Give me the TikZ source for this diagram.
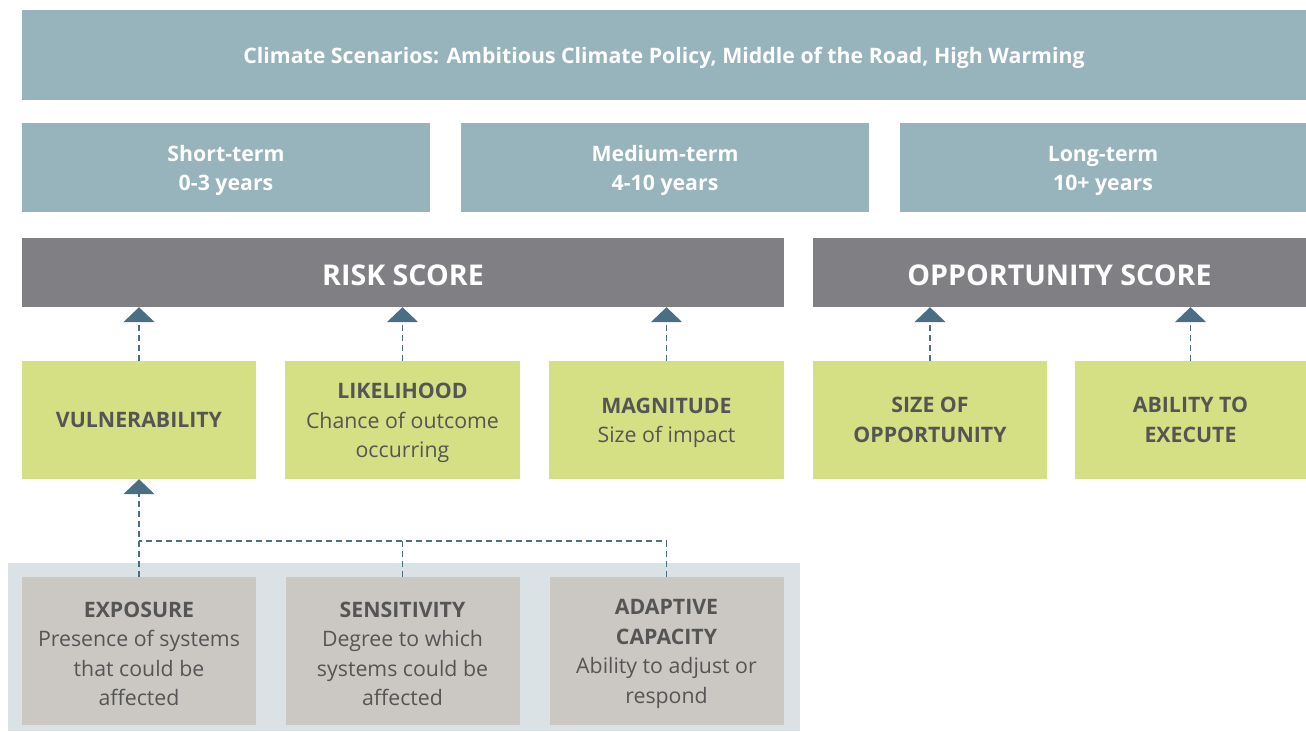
\documentclass[tikz,border=0pt]{standalone}
\usepackage{fontspec}
\setmainfont{Open Sans}
\usetikzlibrary{arrows.meta}
\definecolor{scenblue}{HTML}{97B3BB}
\definecolor{scoregrey}{HTML}{808084}
\definecolor{factgreen}{HTML}{D4E083}
\definecolor{subgrey}{HTML}{CBC8C3}
\definecolor{panelblue}{HTML}{DAE2E5}
\definecolor{linkblue}{HTML}{4A6F85}
\definecolor{txtgrey}{HTML}{555555}
% taller first line, so the text sits a little lower in its box
\newcommand\lift{\rule{0pt}{21.5pt}}
\begin{document}
\begin{tikzpicture}[
  x=1pt, y=-1pt,
  box/.style={rectangle, inner sep=0pt, align=center,
    font=\fontsize{21.3}{29.5}\selectfont, text=txtgrey},
  scen/.style={box, fill=scenblue, text=white, font=\bfseries\fontsize{21.3}{29}\selectfont},
  score/.style={box, fill=scoregrey, text=white, minimum height=69pt,
    font=\bfseries\fontsize{28.6}{30}\selectfont,
    execute at begin node={\rule{0pt}{25.5pt}}},
  factor/.style={box, fill=factgreen, minimum height=118pt},
  sub/.style={box, fill=subgrey, minimum height=148pt, minimum width=234pt},
  dline/.style={draw=linkblue, line width=1.8pt, dash pattern=on 6pt off 4pt},
  link/.style={dline, -{Triangle[width=31pt,length=15pt]}}
]
  \useasboundingbox (0,0) rectangle (1306,731);

  % Scenarios and horizons
  \node[scen, minimum width=1284pt, minimum height=90pt] (scenarios) at (664,55)
    {\lift Climate Scenarios: Ambitious Climate Policy, Middle of the Road, High Warming};
  \node[scen, minimum width=408pt, minimum height=89pt] (short)  at (226,167.5) {\lift Short-term\\0-3 years};
  \node[scen, minimum width=408pt, minimum height=89pt] (medium) at (665,167.5) {\lift Medium-term\\4-10 years};
  \node[scen, minimum width=406pt, minimum height=89pt] (long)   at (1103,167.5) {\lift Long-term\\10+ years};

  % Scores
  \node[score, minimum width=762pt] (risk) at (403,272.5) {RISK SCORE};
  \node[score, minimum width=493pt] (opp)  at (1059.5,272.5) {OPPORTUNITY SCORE};

  % Factors
  \node[factor, minimum width=234pt] (vul)  at (139,420)    {\textbf{VULNERABILITY}};
  \node[factor, minimum width=235pt] (like) at (402.5,420)  {\lift\textbf{LIKELIHOOD}\\Chance of outcome\\occurring};
  \node[factor, minimum width=235pt] (magn) at (666.5,420)  {\lift\textbf{MAGNITUDE}\\Size of impact};
  \node[factor, minimum width=234pt] (size) at (930,420)    {\textbf{SIZE OF}\\\textbf{OPPORTUNITY}};
  \node[factor, minimum width=231pt] (exec) at (1190.5,420) {\textbf{ABILITY TO}\\\textbf{EXECUTE}};

  % Vulnerability components on a panel
  \node[rectangle, fill=panelblue, minimum width=792pt, minimum height=168pt] (panel) at (404,647) {};
  \node[sub] (expo) at (139,651)   {\lift\textbf{EXPOSURE}\\Presence of systems\\that could be\\affected};
  \node[sub] (sens) at (402.5,651) {\lift\textbf{SENSITIVITY}\\Degree to which\\systems could be\\affected};
  \node[sub] (adap) at (666.5,651) {\lift\textbf{ADAPTIVE}\\\textbf{CAPACITY}\\Ability to adjust or\\respond};

  % Links to the scores
  \foreach \f/\s in {vul/risk, like/risk, magn/risk, size/opp, exec/opp}
    \draw[link] (\f.north) -- (\f.north |- \s.south);

  % Links from components
  \coordinate (join) at (139,541);
  \draw[link] (expo.north) -- (expo.north |- vul.south);
  \draw[dline] (adap.north) |- (join);
  \draw[dline] (sens.north) -- (sens.north |- join);
\end{tikzpicture}
\end{document}
